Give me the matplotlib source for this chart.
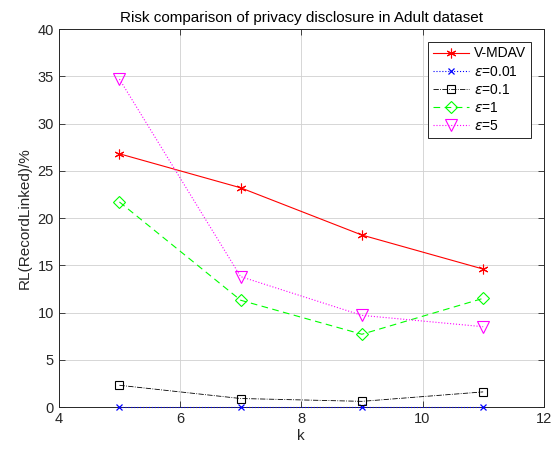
import matplotlib
matplotlib.use("Agg")
import matplotlib.pyplot as plt

plt.rcParams['font.family'] = ['Liberation Sans', 'DejaVu Sans']
plt.rcParams['mathtext.fontset'] = 'dejavusans'

k = [5, 7, 9, 11]
v_mdav = [26.8, 23.2, 18.2, 14.6]
eps_001 = [0.0, 0.0, 0.0, 0.0]
eps_01 = [2.3, 0.9, 0.6, 1.6]
eps_1 = [21.7, 11.3, 7.7, 11.5]
eps_5 = [34.7, 13.8, 9.7, 8.5]

labels = ['V-MDAV', r'$\epsilon$=0.01', r'$\epsilon$=0.1', r'$\epsilon$=1', r'$\epsilon$=5']
x_ticks = [4, 6, 8, 10, 12]
y_ticks = [0, 5, 10, 15, 20, 25, 30, 35, 40]

fig = plt.figure(figsize=(5.6, 4.54), dpi=100)
ax = fig.add_axes([0.105, 0.1035, 0.866, 0.8325])

ax.plot(k, v_mdav, color='#ff0000', linestyle='-', linewidth=0.8,
        marker=(6, 2, 0), markersize=7, markeredgewidth=0.8, label=labels[0], clip_on=False, zorder=5)
ax.plot(k, eps_001, color='#0000ff', linestyle=':', linewidth=0.8,
        marker='x', markersize=5, markeredgewidth=0.9, label=labels[1], clip_on=False, zorder=5)
ax.plot(k, eps_01, color='#000000', linestyle='-.', linewidth=0.6,
        marker='s', markersize=6, markerfacecolor='none', markeredgewidth=0.8, label=labels[2],
        clip_on=False, zorder=5)
ax.plot(k, eps_1, color='#00ff00', linestyle=(0, (6, 4)), linewidth=0.8,
        marker='D', markersize=6.5, markerfacecolor='none', markeredgewidth=0.8, label=labels[3],
        clip_on=False, zorder=5)
ax.plot(k, eps_5, color='#ff00ff', linestyle=':', linewidth=0.8,
        marker='v', markersize=8, markerfacecolor='none', markeredgewidth=0.8, label=labels[4],
        clip_on=False, zorder=5)

ax.set_xlim(4, 12)
ax.set_ylim(0, 40)
ax.set_xticks(x_ticks)
ax.set_yticks(y_ticks)
ax.tick_params(direction='in', length=4, width=0.6, labelsize=10.5, top=True, right=True,
               colors='#262626')
ax.grid(True, color='#d0d0d0', linewidth=0.6)
for s in ax.spines.values():
    s.set_linewidth(0.7)
    s.set_color('#262626')

ax.set_xlabel('k', fontsize=11, color='#262626', labelpad=2)
ax.set_ylabel('RL(RecordLinked)/%', fontsize=11, color='#262626', labelpad=4)
ax.set_title('Risk comparison of privacy disclosure in Adult dataset', fontsize=11, pad=5)

leg = ax.legend(loc='upper right', fontsize=10, fancybox=False, framealpha=1,
                edgecolor='#262626', handlelength=2.6, borderaxespad=0.9,
                labelspacing=0.3, handletextpad=0.4, borderpad=0.35)
leg.get_frame().set_linewidth(0.7)
leg.set_zorder(10)

fig.savefig('out.png', dpi=100)
